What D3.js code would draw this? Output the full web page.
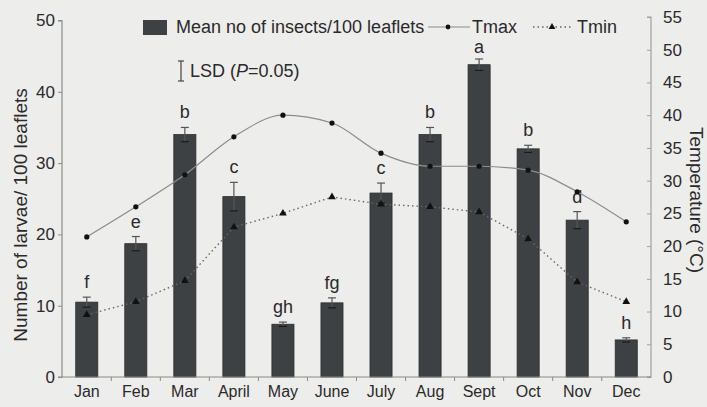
<!DOCTYPE html>
<html><head><meta charset="utf-8">
<script src="https://cdn.jsdelivr.net/npm/d3@7"></script>
<style>body{margin:0;background:#ededec}svg{display:block;font-family:"Liberation Sans",Arial,sans-serif}</style>
</head><body><svg id="c" width="707" height="407"></svg>
<script>
const months = ["Jan","Feb","Mar","April","May","June","July","Aug","Sept","Oct","Nov","Dec"];
const larvae = [10.5,18.7,34,25.3,7.4,10.4,25.8,34,43.8,32,22,5.2];
const lsdErr = [0.7,1.0,1.0,2.0,0.3,0.7,1.4,1.0,0.8,0.5,1.2,0.3];
const letters = ["f","e","b","c","gh","fg","c","b","a","b","d","h"];
const tmax = [21.4,26,30.9,36.7,40,38.8,34.2,32.2,32.2,31.6,28.3,23.7];
const tmin = [9.5,11.5,14.7,22.9,25,27.5,26.4,26,25.2,21.1,14.5,11.5];
const leftTicks = [0,10,20,30,40,50];
const rightTicks = [0,5,10,15,20,25,30,35,40,45,50,55];

const svg = d3.select("#c");
svg.append("rect").attr("width",707).attr("height",407).attr("fill","#ededec");
const L=62,R=651,T=17,B=377;
const x = d3.scaleBand().domain(months).range([L,R]).paddingInner(0.55).paddingOuter(0.28);
const yL = d3.scaleLinear().domain([0,50]).range([B,20.5]);
const yR = d3.scaleLinear().domain([0,55]).range([B,17]);
const axCol="#8a8a8a", txt="#2a2a2a";

// bars
svg.append("g").selectAll("rect").data(larvae).join("rect")
  .attr("x",(d,i)=>x(months[i])).attr("width",x.bandwidth())
  .attr("y",d=>yL(d)).attr("height",d=>B-yL(d))
  .attr("fill","#3e4143").attr("stroke","#2a2c2e").attr("stroke-width",0.8);

// error bars
const eg = svg.append("g").attr("stroke-width",1.2);
larvae.forEach((d,i)=>{
  const cx = x(months[i])+x.bandwidth()/2;
  const y1=yL(d+lsdErr[i]), y2=yL(d-lsdErr[i]);
  eg.append("line").attr("x1",cx).attr("x2",cx).attr("y1",y1).attr("y2",y2).attr("stroke","#555");
  eg.append("line").attr("x1",cx-4).attr("x2",cx+4).attr("y1",y1).attr("y2",y1).attr("stroke","#555");
  eg.append("line").attr("x1",cx-4).attr("x2",cx+4).attr("y1",y2).attr("y2",y2).attr("stroke","#1a1a1a");
});
// letters
svg.append("g").selectAll("text").data(letters).join("text")
  .attr("x",(d,i)=>x(months[i])+x.bandwidth()/2)
  .attr("y",(d,i)=>yL(larvae[i]+lsdErr[i])-(i===8?6:9))
  .attr("text-anchor","middle").attr("font-size",18).attr("fill",txt).text(d=>d);

// Tmax line
const cxF = i=>x(months[i])+x.bandwidth()/2;
svg.append("path").datum(tmax)
  .attr("d",d3.line().x((d,i)=>cxF(i)).y(d=>yR(d)).curve(d3.curveMonotoneX))
  .attr("fill","none").attr("stroke","#8c8c8c").attr("stroke-width",1.2);
svg.append("g").selectAll("circle").data(tmax).join("circle")
  .attr("cx",(d,i)=>cxF(i)).attr("cy",d=>yR(d)).attr("r",2.6).attr("fill","#111");
// Tmin line
svg.append("path").datum(tmin)
  .attr("d",d3.line().x((d,i)=>cxF(i)).y(d=>yR(d)))
  .attr("fill","none").attr("stroke","#666").attr("stroke-width",1.4).attr("stroke-dasharray","1.5,3");
const tri = d3.symbol().type(d3.symbolTriangle).size(26);
svg.append("g").selectAll("path").data(tmin).join("path")
  .attr("d",tri).attr("transform",(d,i)=>`translate(${cxF(i)},${yR(d)})`).attr("fill","#111");

// axes
const gl = svg.append("g").attr("transform",`translate(${L},0)`)
  .call(d3.axisLeft(yL).tickValues(leftTicks).tickSize(4).tickPadding(3));
gl.select(".domain").attr("stroke",axCol).attr("stroke-width",1.2).attr("d",`M-4,${B}H0V${yL(50)}H-4`);
gl.selectAll(".tick line").attr("stroke",axCol);
gl.selectAll("text").attr("font-size",17).attr("fill",txt).attr("font-family","Liberation Sans, Arial");

const gr = svg.append("g").attr("transform",`translate(${R},0)`)
  .call(d3.axisRight(yR).tickValues(rightTicks).tickSize(-4).tickPadding(12));
gr.select(".domain").attr("stroke","#a0a0a0").attr("stroke-width",1.2).attr("d",`M-4,${B}H0V${yR(55)}H-4`);
gr.selectAll(".tick line").attr("stroke","#a0a0a0");
gr.selectAll("text").attr("font-size",17).attr("fill",txt).attr("font-family","Liberation Sans, Arial");

const gx = svg.append("g").attr("transform",`translate(0,${B})`)
  .call(d3.axisBottom(x).tickSize(0).tickPadding(9));
gx.select(".domain").attr("stroke",axCol).attr("stroke-width",1.2).attr("d",`M${L},0H${R}`);
gx.selectAll("text").attr("font-size",16).attr("fill",txt).attr("font-family","Liberation Sans, Arial");
// category separators ticks
const step = x.step();
d3.range(1,12).forEach(k=>{
  const bx = x(months[k]) - (step - x.bandwidth())/2;
  svg.append("line").attr("x1",bx).attr("x2",bx).attr("y1",B).attr("y2",B+4).attr("stroke",axCol);
});

// axis titles
svg.append("text").attr("transform","translate(27,215) rotate(-90)").attr("text-anchor","middle")
  .attr("font-size",19).attr("fill",txt).text("Number of larvae/ 100 leaflets");
svg.append("text").attr("transform","translate(690,200) rotate(90)").attr("text-anchor","middle")
  .attr("font-size",19).attr("fill",txt).text("Temperature (°C)");

// legend
svg.append("rect").attr("x",143).attr("y",20).attr("width",24).attr("height",15).attr("fill","#3e4143");
svg.append("text").attr("x",176).attr("y",33).attr("font-size",18).attr("fill",txt).text("Mean no of insects/100 leaflets");
svg.append("line").attr("x1",428).attr("x2",470).attr("y1",27).attr("y2",27).attr("stroke","#8c8c8c").attr("stroke-width",1.2);
svg.append("circle").attr("cx",448).attr("cy",27).attr("r",2.4).attr("fill","#111");
svg.append("text").attr("x",472).attr("y",33).attr("font-size",18).attr("fill",txt).text("Tmax");
svg.append("line").attr("x1",533).attr("x2",573).attr("y1",27).attr("y2",27).attr("stroke","#666").attr("stroke-width",1.3).attr("stroke-dasharray","1.5,3");
svg.append("path").attr("d",d3.symbol().type(d3.symbolTriangle).size(20)).attr("transform","translate(552,27)").attr("fill","#111");
svg.append("text").attr("x",577).attr("y",33).attr("font-size",18).attr("fill",txt).text("Tmin");
// LSD
const lg = svg.append("g").attr("stroke","#444").attr("stroke-width",1.2);
lg.append("line").attr("x1",181).attr("x2",181).attr("y1",61).attr("y2",81);
lg.append("line").attr("x1",178).attr("x2",184).attr("y1",61).attr("y2",61);
lg.append("line").attr("x1",178).attr("x2",184).attr("y1",81).attr("y2",81);
const lt = svg.append("text").attr("x",190).attr("y",77).attr("font-size",18).attr("fill",txt);
lt.append("tspan").text("LSD (");
lt.append("tspan").attr("font-style","italic").text("P");
lt.append("tspan").text("=0.05)");
</script></body></html>
